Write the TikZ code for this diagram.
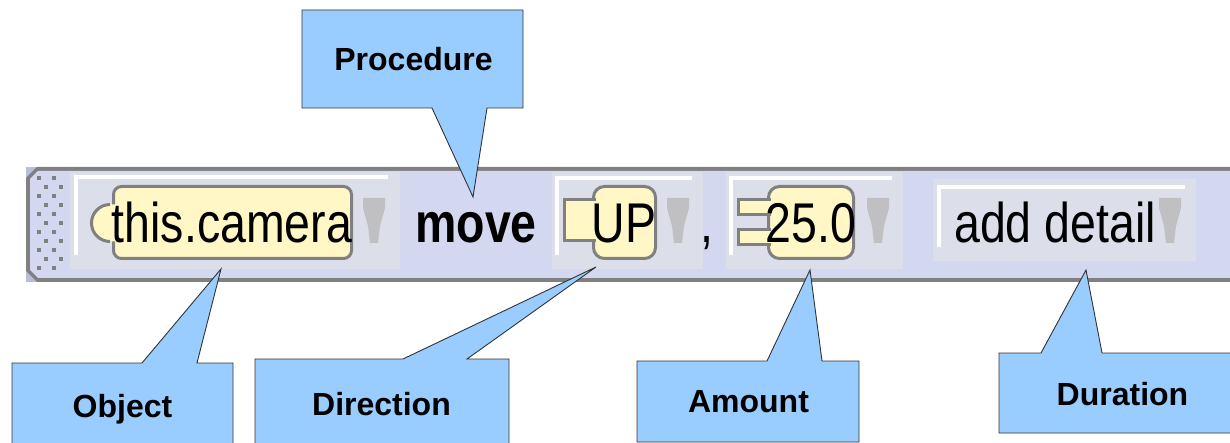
\documentclass[tikz,border=0pt]{standalone}
\usepackage{fontspec}
\setmainfont{Liberation Sans}
\newfontfamily\uifont[FakeStretch=0.83]{Liberation Sans}
\definecolor{strip}{HTML}{D4D7F0}
\definecolor{boxbg}{HTML}{DCDEEA}
\definecolor{pill}{HTML}{FFF7C6}
\definecolor{edge}{HTML}{808080}
\definecolor{drop}{HTML}{C0C0C2}
\definecolor{callout}{HTML}{99CCFF}
\definecolor{corner}{HTML}{B9BDDB}
\tikzset{
  uitext/.style={inner sep=0pt, outer sep=0pt, anchor=base, font=\uifont\fontsize{56}{60}\selectfont},
  uibold/.style={uitext, font=\uifont\bfseries\fontsize{56}{60}\selectfont},
  calltext/.style={inner sep=0pt, outer sep=0pt, anchor=base, font=\bfseries\fontsize{32}{36}\selectfont},
  callshape/.style={fill=callout, draw=black!80, line width=0.9pt, line join=miter},
  slotbox/.style={fill=boxbg},
  hilite/.style={fill=white},
  pillshape/.style={fill=pill, draw=edge, line width=3pt},
}
\newcommand{\dropdown}[1]{%
  \fill[drop] (#1,198) -- ++(22,0) -- ++(0,10) -- ++(-5,18) -- ++(-2,17) -- ++(-8,0) -- ++(-2,-17) -- ++(-5,-18) -- cycle;}
\begin{document}
\begin{tikzpicture}[x=1pt,y=-1pt]
\useasboundingbox (0,0) rectangle (1230,443);
\fill[white] (0,0) rectangle (1230,443);
% toolbar strip
\fill[corner] (26,167) rectangle (38,180);
\fill[corner] (26,270) rectangle (38,282);
\fill[edge] (37,167) -- (1232,167) -- (1232,282) -- (37,282) -- (26,271) -- (26,178) -- cycle;
\fill[strip] (38,171) -- (1232,171) -- (1232,278) -- (38,278) -- (30,270) -- (30,179) -- cycle;
% handle dots
\foreach \k in {0,...,10}{
  \pgfmathsetmacro{\yy}{177.7+9*\k}
  \ifodd\k
    \fill[edge] (44,\yy-2) rectangle ++(4,4);
    \fill[edge] (59,\yy-2) rectangle ++(4,4);
  \else
    \fill[edge] (36.5,\yy-2) rectangle ++(4,4);
    \fill[edge] (51.5,\yy-2) rectangle ++(4,4);
  \fi
}
% slot boxes
\fill[slotbox] (70,172) rectangle (400,269);
\fill[hilite] (74,175) rectangle (388,179);
\fill[hilite] (74,175) rectangle (78,255);
\fill[slotbox] (552,172) rectangle (703,269);
\fill[hilite] (555,176) rectangle (692,180);
\fill[hilite] (555,176) rectangle (559,255);
\fill[slotbox] (726,172) rectangle (903,269);
\fill[hilite] (729,176) rectangle (892,180);
\fill[hilite] (729,176) rectangle (733,255);
\fill[slotbox] (933,179) rectangle (1196,261);
\fill[hilite] (937,185) rectangle (1185,189);
\fill[hilite] (937,185) rectangle (941,247);
% object pill
\draw[pillshape, rounded corners=8pt] (113.5,186.5) rectangle (351.5,258.5);
\fill[pill] (117,204.5) -- (110,204.5) arc[start angle=270, end angle=90, x radius=18.5, y radius=18.5] -- (117,241.5) -- cycle;
\draw[edge, line width=3pt] (110,204.5) arc[start angle=270, end angle=90, x radius=18.5, y radius=18.5];
% direction pill
\draw[pillshape, rounded corners=11pt] (593.5,186.5) rectangle (655.5,258.5);
\fill[pill] (564.5,199.5) rectangle (598,240.5);
\draw[edge, line width=3pt] (596,199.5) -- (564.5,199.5) -- (564.5,240.5) -- (596,240.5);
% amount pill
\draw[pillshape, rounded corners=11pt] (768.5,186.5) rectangle (853.5,258.5);
\fill[pill] (738.5,199.5) rectangle (773,214.5);
\draw[edge, line width=3pt] (771,199.5) -- (738.5,199.5) -- (738.5,214.5) -- (771,214.5);
\fill[pill] (738.5,229.5) rectangle (773,244.5);
\draw[edge, line width=3pt] (771,229.5) -- (738.5,229.5) -- (738.5,244.5) -- (771,244.5);
% dropdown arrows
\dropdown{363}
\dropdown{667}
\dropdown{867}
\dropdown{1159}
% toolbar texts
\node[uitext] (objtxt) at (232,243) {this.camera};
\node[uibold] (movetxt) at (476,243) {move};
\node[uitext] (uptxt) at (624,243) {UP};
\node[uitext] (comma) at (707,243) {,};
\node[uitext] (amttxt) at (811,243) {25.0};
\node[uitext] (durtxt) at (1055,243) {add detail};
% callout tips
\coordinate (tipProc) at (473,197);
\coordinate (tipObj) at (221,269);
\coordinate (tipDir) at (596,267);
\coordinate (tipAmt) at (810,270);
\coordinate (tipDur) at (1086,270);
% callouts
\draw[callshape] (302,10) -- (523,10) -- (523,108) -- (487,108) -- (tipProc) -- (432,108) -- (302,108) -- cycle;
\draw[callshape] (12,363) -- (142,363) -- (tipObj) -- (197,363) -- (233,363) -- (233,452) -- (12,452) -- cycle;
\draw[callshape] (255,359) -- (403,359) -- (tipDir) -- (467,359) -- (509,359) -- (509,452) -- (255,452) -- cycle;
\draw[callshape] (637,361) -- (767,361) -- (tipAmt) -- (822,361) -- (859,361) -- (859,442) -- (637,442) -- cycle;
\draw[callshape] (999,353) -- (1041,353) -- (tipDur) -- (1102,353) -- (1250,353) -- (1250,433) -- (999,433) -- cycle;
\node[calltext] (proc) at (413.5,71) {Procedure};
\node[calltext] (obj) at (122.5,417) {Object};
\node[calltext] (dir) at (381.5,415) {Direction};
\node[calltext] (amt) at (748.5,412) {Amount};
\node[calltext] (dur) at (1122.5,405) {Duration};
\end{tikzpicture}
\end{document}
